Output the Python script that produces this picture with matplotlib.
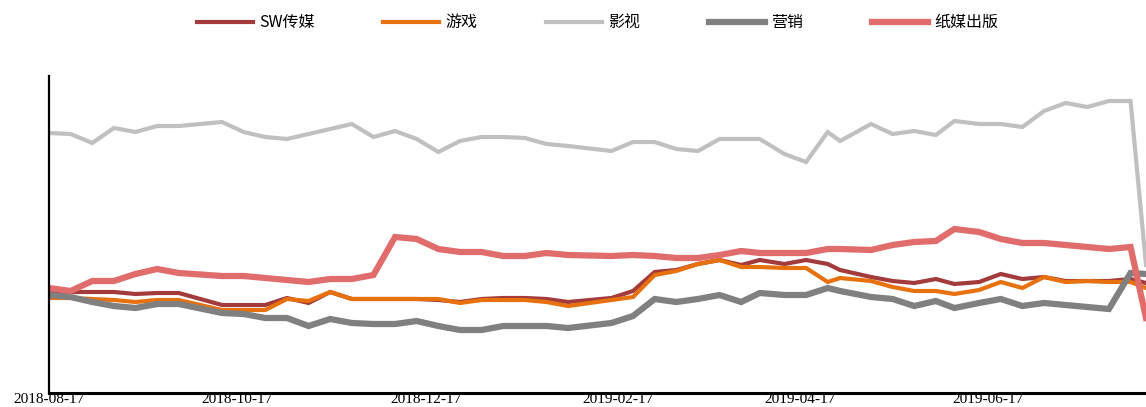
import matplotlib
matplotlib.use("Agg")
import matplotlib.pyplot as plt
import pandas as pd

# weekly closing dates (holiday weeks shifted / skipped)
dates = [
    "2018-08-17", "2018-08-24", "2018-08-31", "2018-09-07", "2018-09-14",
    "2018-09-21", "2018-09-28", "2018-10-12", "2018-10-19", "2018-10-26",
    "2018-11-02", "2018-11-09", "2018-11-16", "2018-11-23", "2018-11-30",
    "2018-12-07", "2018-12-14", "2018-12-21", "2018-12-28", "2019-01-04",
    "2019-01-11", "2019-01-18", "2019-01-25", "2019-02-01", "2019-02-15",
    "2019-02-22", "2019-03-01", "2019-03-08", "2019-03-15", "2019-03-22",
    "2019-03-29", "2019-04-04", "2019-04-12", "2019-04-19", "2019-04-26",
    "2019-04-30", "2019-05-10", "2019-05-17", "2019-05-24", "2019-05-31",
    "2019-06-06", "2019-06-14", "2019-06-21", "2019-06-28", "2019-07-05",
    "2019-07-12", "2019-07-19", "2019-07-26", "2019-08-02", "2019-08-07",
]

sw_media = [10.2, 10.1, 10.1, 10.1, 9.9, 10.0, 10.0, 8.8, 8.8, 8.8,
            9.5, 9.0, 10.1, 9.4, 9.4, 9.4, 9.4, 9.3, 9.1, 9.4,
            9.5, 9.5, 9.4, 9.1, 9.5, 10.2, 12.1, 12.3, 12.9, 13.3,
            12.8, 13.3, 12.9, 13.3, 12.9, 12.3, 11.6, 11.2, 11.0, 11.4,
            10.9, 11.1, 11.9, 11.4, 11.6, 11.2, 11.2, 11.2, 11.4, 11.0]

games = [9.5, 9.5, 9.4, 9.3, 9.1, 9.3, 9.3, 8.3, 8.3, 8.3,
         9.4, 9.2, 10.1, 9.4, 9.4, 9.4, 9.4, 9.4, 9.0, 9.3,
         9.3, 9.3, 9.1, 8.7, 9.3, 9.6, 11.8, 12.2, 12.9, 13.3,
         12.6, 12.6, 12.5, 12.5, 11.1, 11.5, 11.2, 10.6, 10.2, 10.2,
         9.9, 10.3, 11.1, 10.5, 11.6, 11.1, 11.2, 11.1, 11.1, 10.5]

film = [26.0, 25.9, 25.0, 26.5, 26.1, 26.7, 26.7, 27.1, 26.1, 25.6,
        25.4, 25.9, 26.4, 26.9, 25.6, 26.2, 25.4, 24.1, 25.2, 25.6,
        25.6, 25.5, 24.9, 24.7, 24.2, 25.1, 25.1, 24.4, 24.2, 25.4,
        25.4, 25.4, 23.9, 23.1, 26.1, 25.2, 26.9, 25.9, 26.2, 25.8,
        27.2, 26.9, 26.9, 26.6, 28.2, 29.0, 28.6, 29.2, 29.2, 12.8]

marketing = [9.8, 9.6, 9.1, 8.7, 8.5, 8.9, 8.9, 8.0, 7.9, 7.5,
             7.5, 6.7, 7.4, 7.0, 6.9, 6.9, 7.2, 6.7, 6.3, 6.3,
             6.7, 6.7, 6.7, 6.5, 7.0, 7.7, 9.4, 9.1, 9.4, 9.8,
             9.1, 10.0, 9.8, 9.8, 10.5, 10.2, 9.6, 9.4, 8.7, 9.2,
             8.5, 9.0, 9.4, 8.7, 9.0, 8.8, 8.6, 8.4, 12.0, 11.9]

print_pub = [10.5, 10.2, 11.2, 11.2, 11.9, 12.4, 12.0, 11.7, 11.7, 11.5,
             11.3, 11.1, 11.4, 11.4, 11.8, 15.6, 15.4, 14.4, 14.1, 14.1,
             13.7, 13.7, 14.0, 13.8, 13.7, 13.8, 13.7, 13.5, 13.5, 13.8,
             14.2, 14.0, 14.0, 14.0, 14.4, 14.4, 14.3, 14.8, 15.1, 15.2,
             16.4, 16.1, 15.4, 15.0, 15.0, 14.8, 14.6, 14.4, 14.6, 7.5]

tick_labels = ["2018-08-17", "2018-10-17", "2018-12-17",
               "2019-02-17", "2019-04-17", "2019-06-17"]

series = [
    ("SW传媒", sw_media, "#a33a3c", 3.0),
    ("游戏", games, "#e8710f", 3.0),
    ("影视", film, "#c0c0c0", 3.0),
    ("营销", marketing, "#808080", 4.5),
    ("纸媒出版", print_pub, "#e06c6c", 4.5),
]

x = pd.to_datetime(dates)

fig = plt.figure(figsize=(11.46, 4.07), dpi=100)
ax = fig.add_axes([49 / 1146, 14 / 407, 1097 / 1146, 317 / 407])

for name, vals, color, lw in series:
    ax.plot(x, vals, color=color, lw=lw, label=name, solid_joinstyle="miter")

ax.set_xlim(x[0], x[-1])
ax.set_ylim(0, 31.7)

ax.spines["top"].set_visible(False)
ax.spines["right"].set_visible(False)
ax.spines["left"].set_linewidth(1.6)
ax.spines["bottom"].set_linewidth(2.2)
ax.set_yticks([])

ax.set_xticks(pd.to_datetime(tick_labels))
ax.set_xticklabels(tick_labels, fontfamily="Liberation Serif", fontsize=11)
ax.tick_params(axis="x", length=0, pad=0.3)

ax.legend(loc="center", bbox_to_anchor=(0.5, 1.168), ncol=5, frameon=False,
          prop={"family": ["Noto Sans CJK SC", "DejaVu Sans"], "size": 11.5},
          handlelength=3.5, handletextpad=0.4, columnspacing=4.3)

fig.savefig("out.png", dpi=100)
